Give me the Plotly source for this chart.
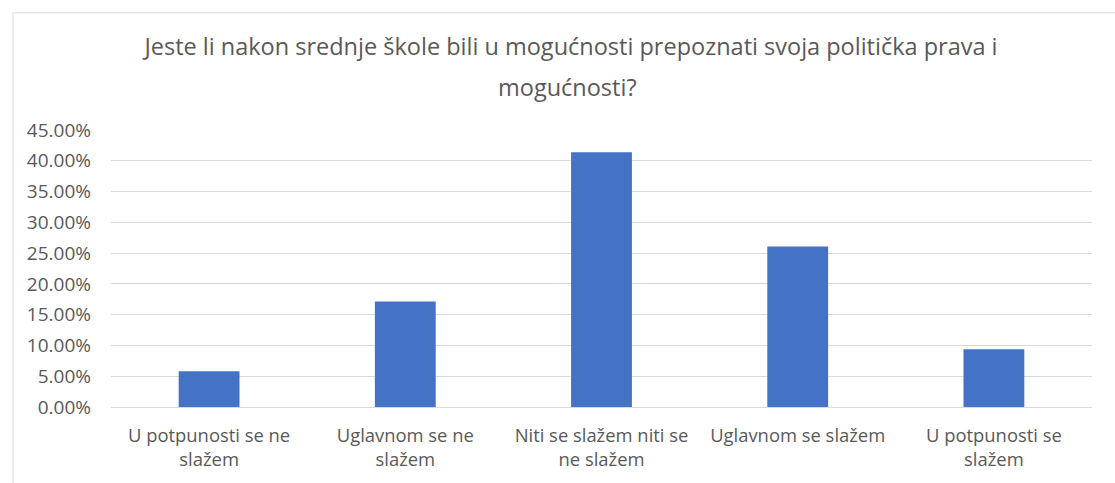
import plotly.graph_objects as go

categories = [
    "U potpunosti se ne<br>slažem",
    "Uglavnom se ne<br>slažem",
    "Niti se slažem niti se<br>ne slažem",
    "Uglavnom se slažem",
    "U potpunosti se<br>slažem",
]
values = [0.0582, 0.1715, 0.4138, 0.2609, 0.0937]
y_ticks = [0, 0.05, 0.10, 0.15, 0.20, 0.25, 0.30, 0.35, 0.40, 0.45]
title_line1 = "Jeste li nakon srednje škole bili u mogućnosti prepoznati svoja politička prava i"
title_line2 = "mogućnosti?"

FONT = "Open Sans"
GRAY = "#595959"
GRID = "#d9d9d9"

W, H = 1115, 483
L, R, T, B = 111, 23, 130, 74
PW = W - L - R
PH = H - T - B

fig = go.Figure(
    go.Bar(
        x=categories,
        y=values,
        marker=dict(color="#4472C4", line=dict(width=0)),
        hoverinfo="x+y",
    )
)

fig.update_layout(
    width=W,
    height=H,
    margin=dict(l=L, r=R, t=T, b=B),
    paper_bgcolor="white",
    plot_bgcolor="white",
    bargap=0.69,
    showlegend=False,
    font=dict(family=FONT, color=GRAY, size=18),
    title=dict(
        text=title_line1,
        x=571 / W,
        xanchor="center",
        y=1 - 47 / H,
        yanchor="middle",
        font=dict(family=FONT, size=23.5, color=GRAY),
    ),
    annotations=[
        dict(
            text=title_line2,
            xref="paper",
            yref="paper",
            x=(567 - L) / PW,
            y=(H - B - 87) / PH,
            xanchor="center",
            yanchor="middle",
            showarrow=False,
            font=dict(family=FONT, size=23.5, color=GRAY),
        )
    ],
    shapes=[
        dict(
            type="rect",
            xref="paper",
            yref="paper",
            x0=(13 - L) / PW,
            x1=(1130 - L) / PW,
            y0=(H - B - 500) / PH,
            y1=(H - B - 12) / PH,
            line=dict(color=GRID, width=1),
            fillcolor="rgba(0,0,0,0)",
            layer="below",
        )
    ],
)

fig.update_yaxes(
    range=[0, 0.45],
    tickvals=y_ticks,
    tickformat=".2%",
    showgrid=True,
    gridcolor=GRID,
    gridwidth=1,
    zeroline=False,
    showline=False,
    ticks="",
    ticklabelstandoff=19,
    tickfont=dict(family=FONT, size=19, color=GRAY),
    fixedrange=True,
)

fig.update_xaxes(
    showline=True,
    linecolor=GRID,
    linewidth=1,
    showgrid=False,
    ticks="",
    ticklabelstandoff=12,
    tickfont=dict(family=FONT, size=18.4, color=GRAY),
    tickangle=0,
    fixedrange=True,
)

fig.write_html(
    "out.html",
    config={"displayModeBar": False},
    post_script="document.body.style.margin='0';document.body.style.overflow='hidden';",
)
